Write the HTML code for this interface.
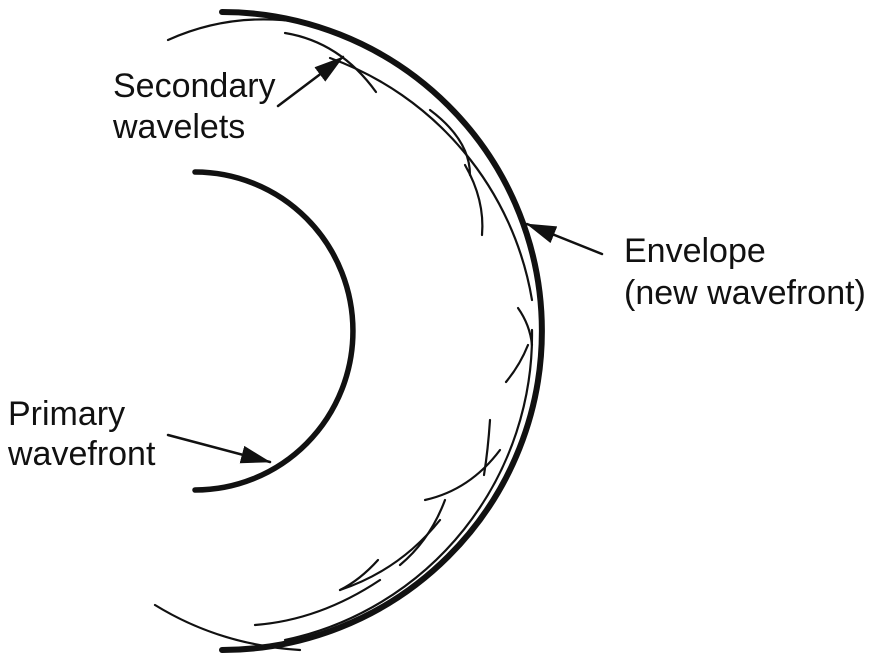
<!DOCTYPE html>
<html><head><style>
html,body{margin:0;padding:0;background:#fff;}
svg{display:block;}
text{font-family:"Liberation Sans",sans-serif;font-size:34px;fill:#111;}
</style></head><body>
<svg width="876" height="666" viewBox="0 0 876 666" xmlns="http://www.w3.org/2000/svg">
<defs>
<marker id="ah" markerWidth="30" markerHeight="18" refX="29" refY="9" orient="auto" markerUnits="userSpaceOnUse" viewBox="0 0 30 18">
<path d="M0,0 L30,9 L0,18 z" fill="#111"/>
</marker>
</defs>
<g fill="none" stroke="#111" stroke-linecap="round">
<path d="M222,12 A320,319 0 0 1 222,650" stroke-width="6"/>
<path d="M195,172 A158,159 0 0 1 195,490" stroke-width="5.5"/>
<g stroke-width="2.2">
<path d="M168,40 Q230,12 300,22"/>
<path d="M285,33 Q340,42 376,92"/>
<path d="M330,58 A312,312 0 0 1 532,300"/>
<path d="M430,110 Q470,140 470,175"/>
<path d="M465,165 Q485,200 482,235"/>
<path d="M518,308 Q530,325 532,345"/>
<path d="M532,330 A312,312 0 0 1 285,640"/>
<path d="M528,345 Q520,365 506,382"/>
<path d="M490,420 Q488,450 484,475"/>
<path d="M500,450 Q470,490 425,500"/>
<path d="M445,500 Q430,540 400,565"/>
<path d="M440,520 Q400,570 340,590"/>
<path d="M378,560 Q360,580 340,590"/>
<path d="M380,580 Q320,620 255,625"/>
<path d="M155,605 Q220,645 300,650"/>
</g>
<g stroke-width="2.5">
<path d="M278,106 L343,57" marker-end="url(#ah)"/>
<path d="M602,254 L527,224" marker-end="url(#ah)"/>
<path d="M168,435 L270,462" marker-end="url(#ah)"/>
</g>
</g>
<text x="113" y="97">Secondary</text>
<text x="113" y="138">wavelets</text>
<text x="624" y="262">Envelope</text>
<text x="624" y="304">(new wavefront)</text>
<text x="8" y="425">Primary</text>
<text x="8" y="465">wavefront</text>
</svg>
</body></html>
